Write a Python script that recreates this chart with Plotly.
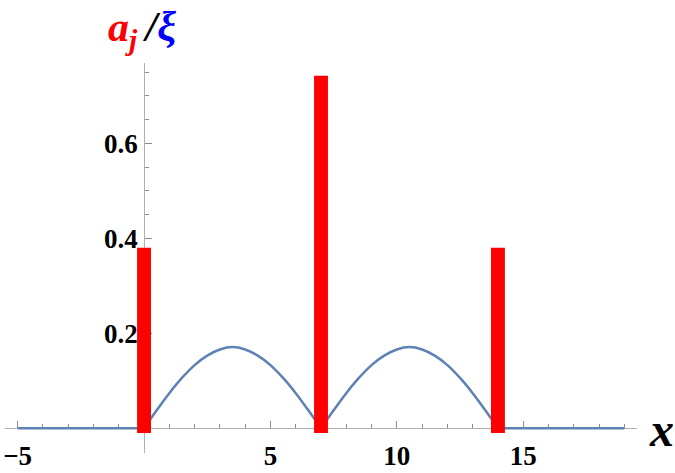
import plotly.graph_objects as go

# ---- data ----
bar_x = [0, 7, 14]
bar_a = [0.38, 0.742, 0.38]

flat_left_x = [-5, 0]
flat_left_y = [0, 0]
arch1_x = [0, 0.5, 1, 1.5, 2, 2.5, 3, 3.5, 4, 4.5, 5, 5.5, 6, 6.5, 7]
arch1_y = [0.0, 0.038, 0.074, 0.106, 0.133, 0.153, 0.166, 0.171, 0.166, 0.153, 0.133, 0.106, 0.074, 0.038, 0.0]
arch2_x = [7, 7.5, 8, 8.5, 9, 9.5, 10, 10.5, 11, 11.5, 12, 12.5, 13, 13.5, 14]
arch2_y = [0.0, 0.038, 0.074, 0.106, 0.133, 0.153, 0.166, 0.171, 0.166, 0.153, 0.133, 0.106, 0.074, 0.038, 0.0]
flat_right_x = [14, 19]
flat_right_y = [0, 0]

x_tickvals = [-5, 5, 10, 15]
x_ticktext = ["\u22125", "5", "10", "15"]
y_tickvals = [0.2, 0.4, 0.6]
y_ticktext = ["0.2", "0.4", "0.6"]

XR = [-5.5, 19.5]
YR = [-0.052, 0.769]
BASE = -0.01

curve_color = "rgb(94,129,181)"
font_family = "Liberation Serif, Times New Roman, serif"

fig = go.Figure()
for xs, ys, shp in [(flat_left_x, flat_left_y, "linear"),
                    (arch1_x, arch1_y, "spline"),
                    (arch2_x, arch2_y, "spline"),
                    (flat_right_x, flat_right_y, "linear")]:
    fig.add_trace(go.Scatter(x=xs, y=ys, mode="lines",
                             line=dict(color=curve_color, width=2.5, shape=shp),
                             showlegend=False, hoverinfo="skip"))

fig.add_trace(go.Bar(x=bar_x, y=[a - BASE for a in bar_a], base=BASE,
                     width=0.55, marker=dict(color="#ff0000", line=dict(width=0)),
                     xaxis="x2", yaxis="y2", showlegend=False))

xpos = (0 - YR[0]) / (YR[1] - YR[0])
ypos = (0 - XR[0]) / (XR[1] - XR[0])

axis_col = "#b0b0b0"
tick_col = "#8c8c8c"
tickfont = dict(family=font_family, size=27, color="black", weight="bold")

fig.update_layout(
    width=675, height=473,
    margin=dict(l=5, r=38, t=63, b=20, autoexpand=False),
    paper_bgcolor="white", plot_bgcolor="white",
    xaxis=dict(range=XR, anchor="free", position=xpos, automargin=False,
               showgrid=False, zeroline=False,
               showline=True, linecolor=axis_col, linewidth=1,
               tickmode="array", tickvals=x_tickvals, ticktext=x_ticktext,
               ticks="inside", ticklen=7, tickcolor=tick_col, tickwidth=1,
               ticklabelstandoff=3,
               tickfont=tickfont, layer="below traces",
               minor=dict(tickmode="linear", tick0=0, dtick=1, ticks="inside",
                          ticklen=4, tickcolor=tick_col, tickwidth=1, showgrid=False)),
    yaxis=dict(range=YR, anchor="free", position=ypos, automargin=False,
               showgrid=False, zeroline=False,
               showline=True, linecolor=axis_col, linewidth=1,
               tickmode="array", tickvals=y_tickvals, ticktext=y_ticktext,
               ticks="inside", ticklen=7, tickcolor=tick_col, tickwidth=1,
               ticklabelstandoff=1,
               tickfont=tickfont, layer="below traces",
               minor=dict(tickmode="linear", tick0=0, dtick=0.05, ticks="inside",
                          ticklen=4, tickcolor=tick_col, tickwidth=1, showgrid=False)),
    xaxis2=dict(range=XR, overlaying="x", visible=False),
    yaxis2=dict(range=YR, overlaying="y", visible=False),
    annotations=[
        dict(xref="paper", yref="paper", x=0.2168, y=1.085, showarrow=False,
             xanchor="center", yanchor="middle",
             text="<b><i><span style='color:#ff0000'>a</span><sub><span style='color:#ff0000'>j</span></sub>"
                  "<span style='color:black'>\u2009/</span><span style='color:#0000ff'>\u03be</span></i></b>",
             font=dict(family=font_family, size=42)),
        dict(xref="paper", yref="paper", x=1.038, y=0.0615, showarrow=False,
             xanchor="center", yanchor="middle",
             text="<b><i>x</i></b>",
             font=dict(family=font_family, size=48, color="black")),
    ],
)

fig.write_html("out.html")
